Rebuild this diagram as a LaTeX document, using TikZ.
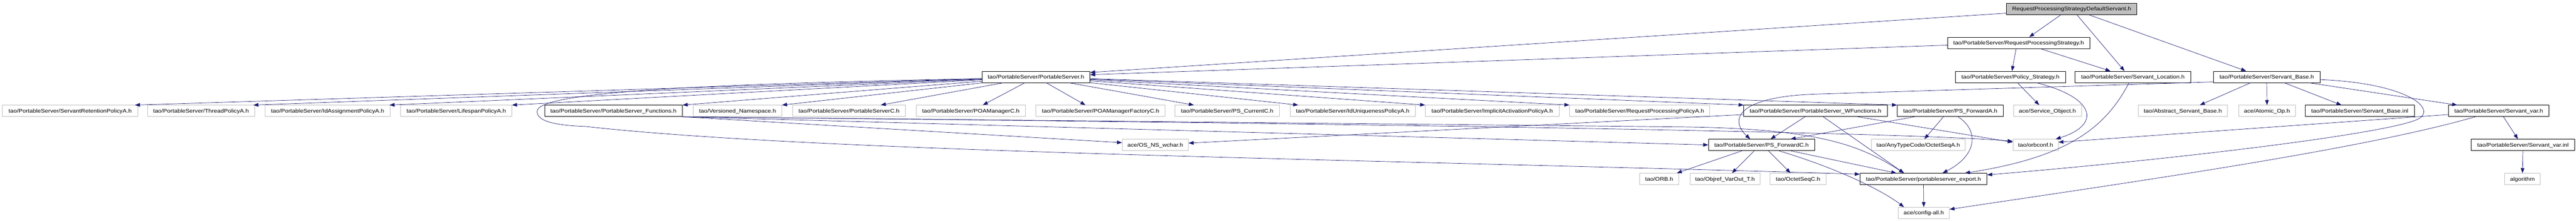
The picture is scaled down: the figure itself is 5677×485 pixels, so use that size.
\documentclass[tikz,border=0pt]{standalone}
\usepackage{fontspec}
\setmainfont{Liberation Sans}[FakeStretch=1.14]
\usetikzlibrary{arrows.meta}
\definecolor{edgec}{RGB}{25,25,112}
\definecolor{grayb}{RGB}{191,191,191}
\begin{document}
\begin{tikzpicture}[x=1pt,y=-1pt,
  nbox/.style={rectangle, inner sep=0pt, minimum height=25pt, text height=9.5pt, text depth=1.5pt, font=\fontsize{11.6}{13}\selectfont, line width=0.8pt},
  ext/.style={nbox, draw=grayb},
  doc/.style={nbox, draw=black},
  topn/.style={nbox, draw=black, fill=grayb},
  e/.style={draw=edgec, line width=0.8pt, -{Triangle[length=11pt,width=8pt]}}]
\useasboundingbox (0,0) rectangle (5677,485);
% row 0
\node[topn, minimum width=287pt] (top) at (4565.5,19.5) {RequestProcessingStrategyDefaultServant.h};
% row 1
\node[doc, minimum width=313pt] (rps) at (4448.5,94.3) {tao/PortableServer/RequestProcessingStrategy.h};
% row 2
\node[doc, minimum width=238pt] (ps) at (2283,169.1) {tao/PortableServer/PortableServer.h};
\node[doc, minimum width=243pt] (pst) at (4430.5,169.1) {tao/PortableServer/Policy\_Strategy.h};
\node[doc, minimum width=255pt] (sloc) at (4700.5,169.1) {tao/PortableServer/Servant\_Location.h};
\node[doc, minimum width=235pt] (sbase) at (4995.5,169.1) {tao/PortableServer/Servant\_Base.h};
% row 3
\node[ext, minimum width=299pt] (srp) at (154.5,243.9) {tao/PortableServer/ServantRetentionPolicyA.h};
\node[ext, minimum width=236pt] (thr) at (443,243.9) {tao/PortableServer/ThreadPolicyA.h};
\node[ext, minimum width=276pt] (ida) at (722,243.9) {tao/PortableServer/IdAssignmentPolicyA.h};
\node[ext, minimum width=245pt] (life) at (1005.5,243.9) {tao/PortableServer/LifespanPolicyA.h};
\node[doc, minimum width=304pt] (func) at (1352,243.9) {tao/PortableServer/PortableServer\_Functions.h};
\node[ext, minimum width=195pt] (vns) at (1625.5,243.9) {tao/Versioned\_Namespace.h};
\node[ext, minimum width=248pt] (psc) at (1871,243.9) {tao/PortableServer/PortableServerC.h};
\node[ext, minimum width=241pt] (poam) at (2139.5,243.9) {tao/PortableServer/POAManagerC.h};
\node[ext, minimum width=285pt] (poamf) at (2425.5,243.9) {tao/PortableServer/POAManagerFactoryC.h};
\node[ext, minimum width=231pt] (pscur) at (2704.5,243.9) {tao/PortableServer/PS\_CurrentC.h};
\node[ext, minimum width=276pt] (idu) at (2981,243.9) {tao/PortableServer/IdUniquenessPolicyA.h};
\node[ext, minimum width=295pt] (impl) at (3288.5,243.9) {tao/PortableServer/ImplicitActivationPolicyA.h};
\node[ext, minimum width=309pt] (rpp) at (3613.5,243.9) {tao/PortableServer/RequestProcessingPolicyA.h};
\node[doc, minimum width=316pt] (wfunc) at (4001,243.9) {tao/PortableServer/PortableServer\_WFunctions.h};
\node[doc, minimum width=234pt] (psfa) at (4298,243.9) {tao/PortableServer/PS\_ForwardA.h};
\node[ext, minimum width=150pt] (svo) at (4512,243.9) {ace/Service\_Object.h};
\node[ext, minimum width=197pt] (asb) at (4810.5,243.9) {tao/Abstract\_Servant\_Base.h};
\node[ext, minimum width=124pt] (atom) at (4996,243.9) {ace/Atomic\_Op.h};
\node[doc, minimum width=241pt] (sbinl) at (5200.5,243.9) {tao/PortableServer/Servant\_Base.inl};
\node[doc, minimum width=221pt] (svar) at (5506.5,243.9) {tao/PortableServer/Servant\_var.h};
% row 4
\node[ext, minimum width=146pt] (wchar) at (2546,318.7) {ace/OS\_NS\_wchar.h};
\node[doc, minimum width=234pt] (psfc) at (3882,318.7) {tao/PortableServer/PS\_ForwardC.h};
\node[ext, minimum width=207pt] (osa) at (4227.5,318.7) {tao/AnyTypeCode/OctetSeqA.h};
\node[ext, minimum width=100pt] (orbconf) at (4486,318.7) {tao/orbconf.h};
\node[doc, minimum width=228pt] (svinl) at (5560,318.7) {tao/PortableServer/Servant\_var.inl};
% row 5
\node[ext, minimum width=87pt] (orb) at (3656.5,393.5) {tao/ORB.h};
\node[ext, minimum width=155pt] (objref) at (3801.5,393.5) {tao/Objref\_VarOut\_T.h};
\node[ext, minimum width=123pt] (osc) at (3962.5,393.5) {tao/OctetSeqC.h};
\node[doc, minimum width=280pt] (export) at (4239,393.5) {tao/PortableServer/portableserver\_export.h};
\node[ext, minimum width=78pt] (algo) at (5559,393.5) {algorithm};
% row 6
\node[ext, minimum width=113pt] (cfg) at (4239.5,468.3) {ace/config-all.h};

% edges from top
\draw[e] ([xshift=-23.5pt]top.south) -- ([xshift=23.5pt]rps.north);
\draw[e] ([xshift=11.5pt]top.south) -- ([xshift=-18.5pt]sloc.north);
\draw[e] ([xshift=37.5pt]top.south) -- ([xshift=-45.5pt]sbase.north);
\draw[e] ([yshift=-9.5pt]top.west) -- ([yshift=9.8pt]ps.east);
% rps
\draw[e] ([yshift=-5pt]rps.west) -- ([yshift=4.8pt]ps.east);
\draw[e] ([xshift=-5.5pt]rps.south) -- ([xshift=3.5pt]pst.north);
\draw[e] ([xshift=48.5pt]rps.south) -- ([xshift=-49.5pt]sloc.north);
% pst
\draw[e] ([xshift=15.5pt]pst.south) -- ([xshift=-18pt]svo.north);
\draw[e] ([xshift=57.5pt]pst.south) .. controls (4620,215) and (4630,275) .. ([xshift=-6pt]orbconf.north east);
% sloc
\draw[e] ([xshift=-8.5pt]sloc.south) .. controls (4640,280) and (4560,345) .. ([xshift=-49pt]export.north east);
% sbase
\draw[e] ([xshift=-35.5pt]sbase.south) -- ([xshift=37.5pt]asb.north);
\draw[e] (sbase.south) -- (atom.north);
\draw[e] ([xshift=38.5pt]sbase.south) -- ([xshift=-40.5pt]sbinl.north);
\draw[e] ([xshift=92.5pt]sbase.south) -- ([xshift=-91.5pt]svar.north);
\draw[e] ([yshift=-11pt]sbase.west) -- (4000,207) .. controls (3830,213) and (3810,262) .. ([xshift=-25pt]psfc.north);
\draw[e] ([yshift=-6pt]sbase.east) .. controls (5290,182) and (5365,232) .. (5335,258) .. controls (5300,290) and (4800,350) .. ([yshift=9pt]export.east);
% svar
\draw[e] ([xshift=10.5pt]svar.south) -- ([xshift=-11pt]svinl.north);
\draw[e] ([yshift=-8pt]svar.west) -- ([yshift=6pt]orbconf.east);
\draw[e] ([xshift=-51.5pt]svar.south) .. controls (5200,330) and (4700,400) .. ([yshift=8pt]cfg.east);
\draw[e] (svinl.south) -- (algo.north);
% PortableServer.h fan
\draw[e] (ps) -- ([xshift=-7pt]srp.north east);
\draw[e] (ps) -- ([xshift=-3pt]thr.north east);
\draw[e] (ps) -- ([xshift=-2pt]ida.north east);
\draw[e] (ps) -- (life.north east);
\draw[e] (ps) -- (func.north east);
\draw[e] (ps) -- (vns.north east);
\draw[e] (ps) -- ([xshift=70pt]psc.north);
\draw[e] (ps) -- ([xshift=26.5pt]poam.north);
\draw[e] (ps) -- ([xshift=-33.5pt]poamf.north);
\draw[e] (ps) -- ([xshift=-73.5pt]pscur.north);
\draw[e] (ps) -- ([xshift=-120pt]idu.north);
\draw[e] (ps) -- (impl.north west);
\draw[e] (ps) -- (rpp.north west);
\draw[e] (ps) -- (wfunc.north west);
\draw[e] (ps) -- (psfa.north west);
\draw[e] ([yshift=-4pt]ps.west) .. controls (1500,185) and (1187,205) .. (1184,244) .. controls (1181,268) and (1230,276) .. (1290,278) .. controls (1800,335) and (3000,350) .. ([yshift=10.5pt]export.west);
% Functions
\draw[e] (func.south east) -- ([yshift=5pt]wchar.west);
\draw[e] (func.south east) -- (psfc.west);
\draw[e] (func.south east) -- (3700,279) .. controls (4010,282) and (4100,320) .. ([xshift=-43pt]export.north);
\draw[e] (func.south east) .. controls (3000,272) and (4200,290) .. ([yshift=8pt]orbconf.west);
% WFunctions
\draw[e] ([yshift=-8pt]wfunc.west) -- ([yshift=4pt]wchar.east);
\draw[e] ([xshift=-23pt]wfunc.south) -- ([xshift=20pt]psfc.north);
\draw[e] ([xshift=17pt]wfunc.south) -- ([xshift=-43pt]export.north);
\draw[e] ([xshift=93pt]wfunc.south) -- ([yshift=6pt]orbconf.west);
% PS_ForwardA
\draw[e] ([xshift=-79pt]psfa.south) -- ([xshift=64pt]psfc.north);
\draw[e] ([xshift=-15pt]psfa.south) -- ([xshift=13.5pt]osa.north);
\draw[e] ([xshift=17pt]psfa.south) .. controls (4360,285) and (4360,340) .. ([xshift=42pt]export.north);
% PS_ForwardC
\draw[e] ([xshift=-43pt]psfc.south) -- ([xshift=-5pt]orb.north east);
\draw[e] ([xshift=-16pt]psfc.south) -- ([xshift=15.5pt]objref.north);
\draw[e] ([xshift=15pt]psfc.south) -- ([xshift=-16.5pt]osc.north);
\draw[e] ([xshift=64pt]psfc.south) -- ([xshift=-60pt]export.north);
\draw[e] ([xshift=38pt]psfc.south) .. controls (4050,370) and (4150,420) .. ([xshift=-43.5pt]cfg.north);
% export
\draw[e] (export.south) -- (cfg.north);
\end{tikzpicture}
\end{document}
